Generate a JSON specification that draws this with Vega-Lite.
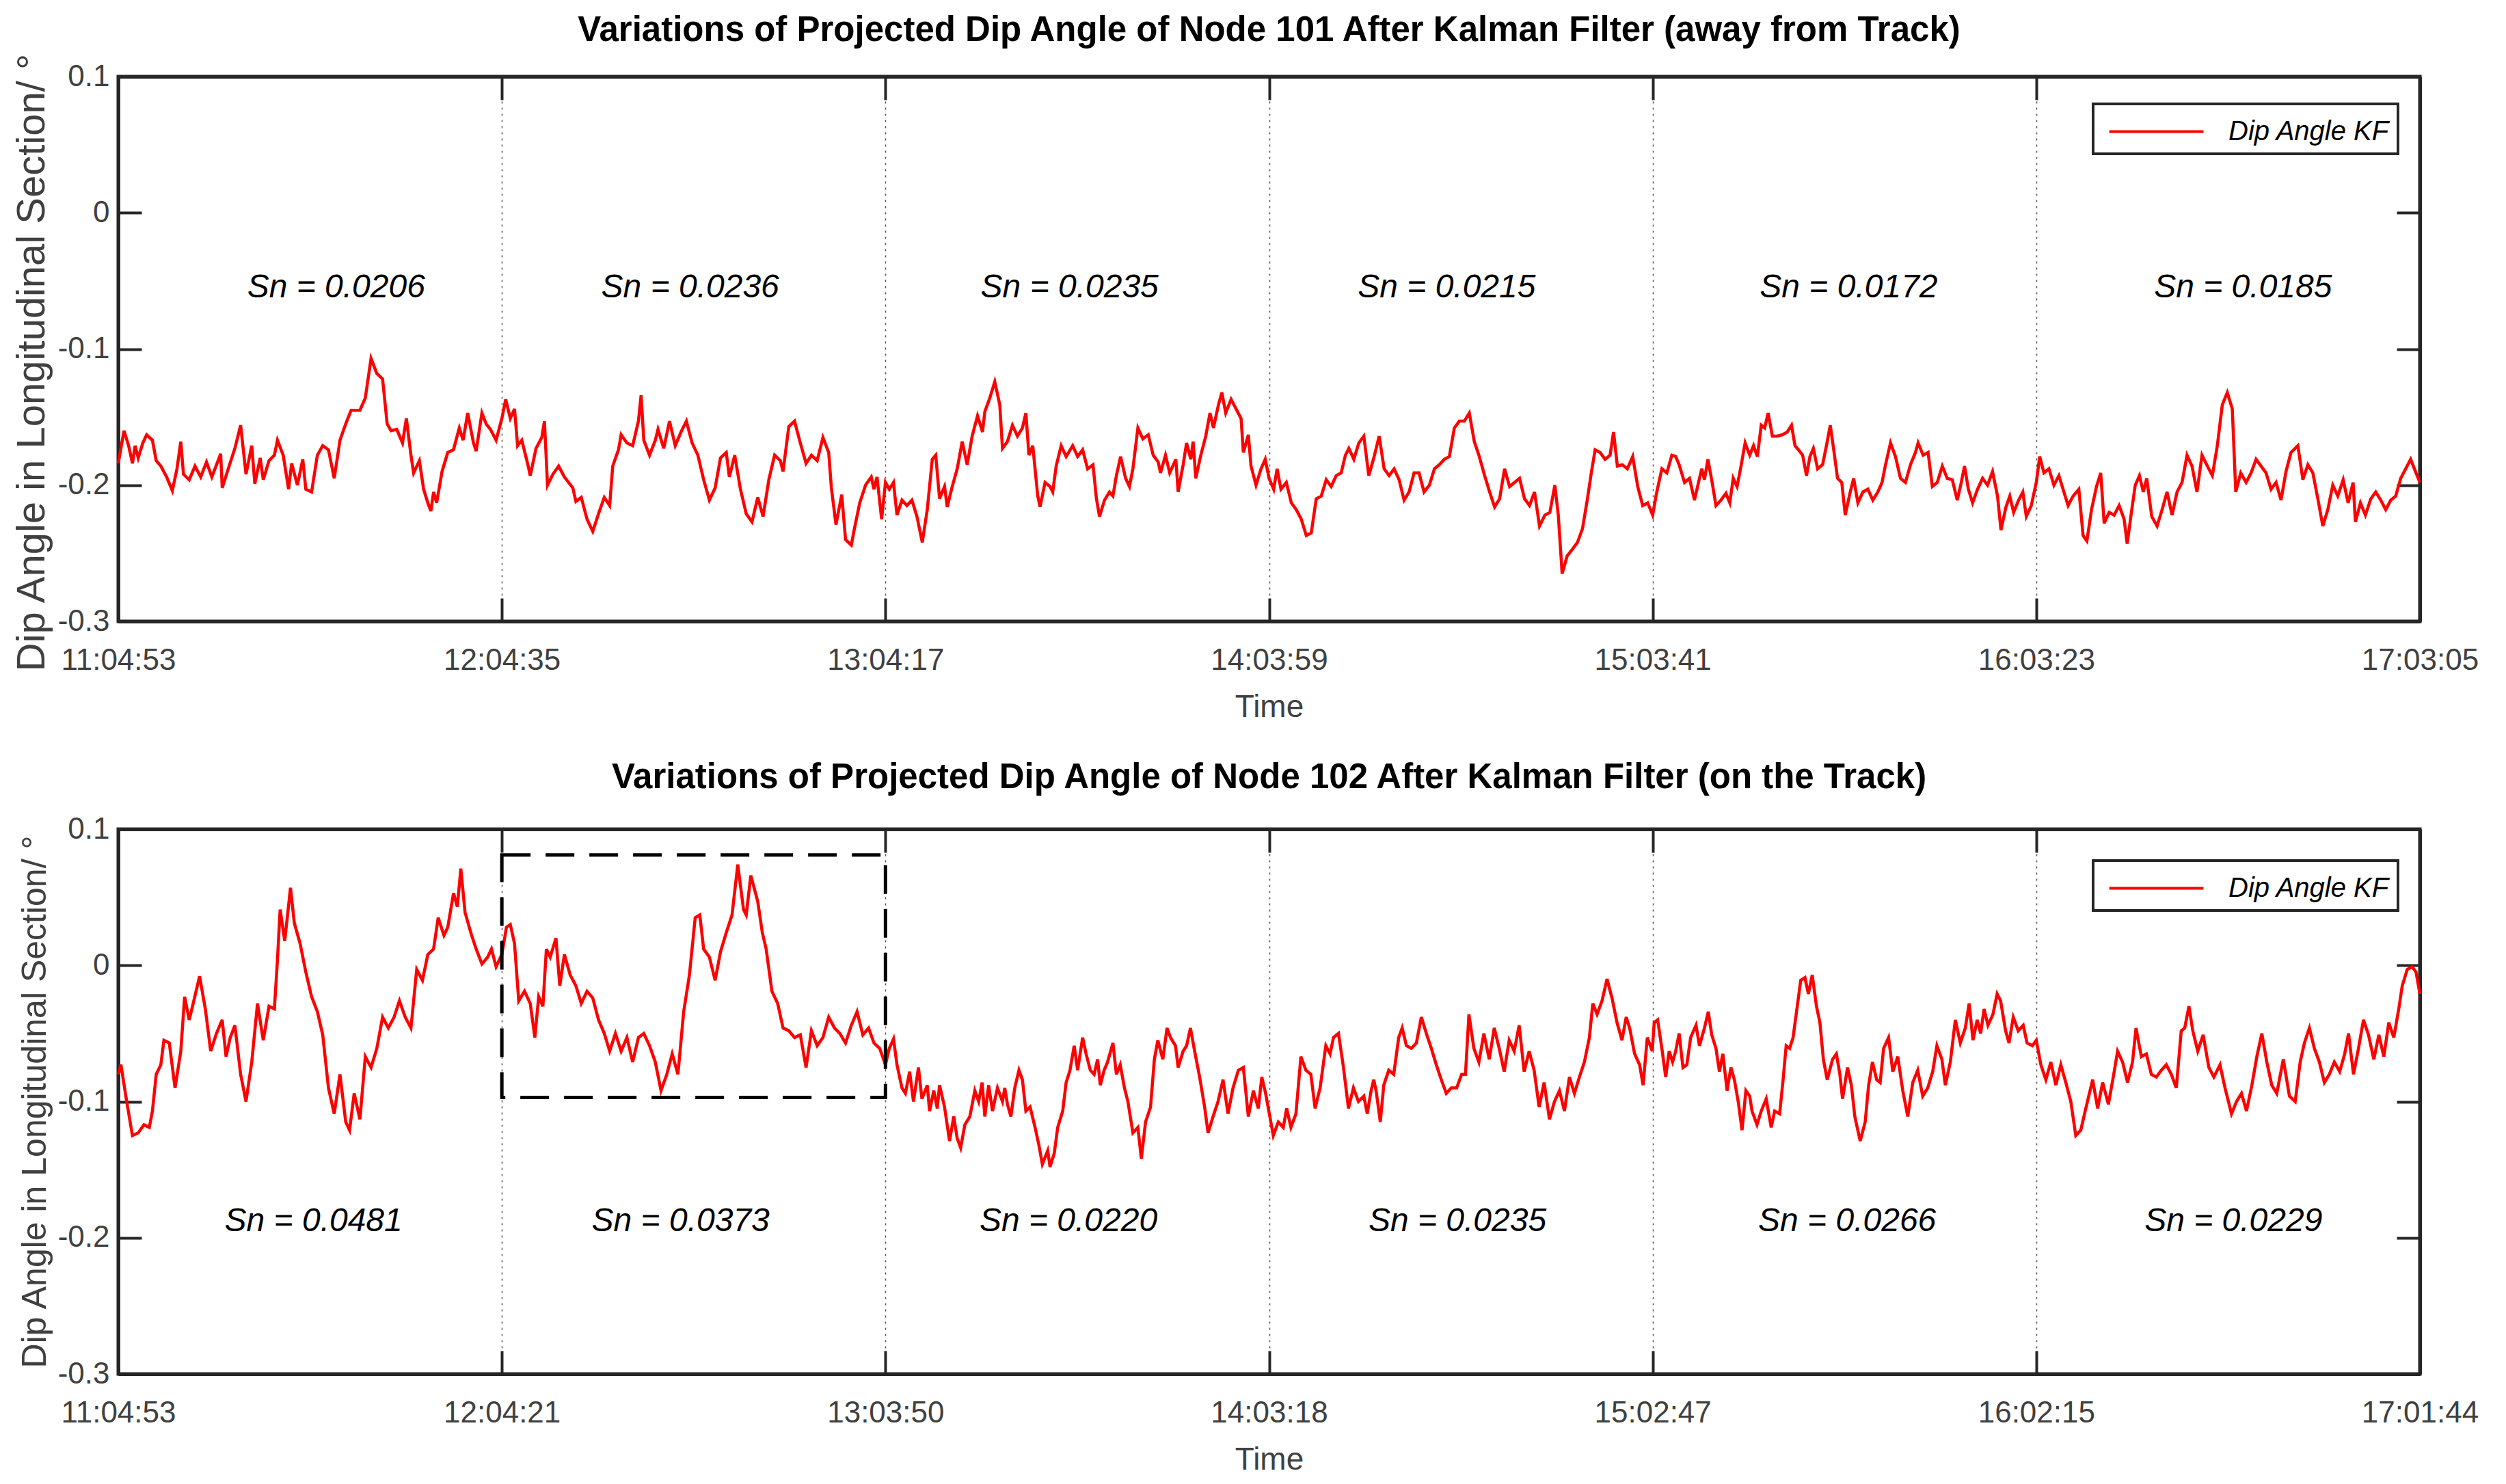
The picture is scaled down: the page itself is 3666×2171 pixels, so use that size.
{
  "$schema": "https://vega.github.io/schema/vega-lite/v6.json",
  "background": "white",
  "padding": {"left": 15, "top": 16, "right": 10, "bottom": 10},
  "datasets": {
    "top": [
      {"t":0,"v":-0.184},{"t":0.015,"v":-0.160},{"t":0.027,"v":-0.171},{"t":0.037,"v":-0.184},{"t":0.044,"v":-0.171},{"t":0.052,"v":-0.180},{"t":0.064,"v":-0.169},{"t":0.074,"v":-0.163},{"t":0.089,"v":-0.167},{"t":0.099,"v":-0.182},
      {"t":0.111,"v":-0.186},{"t":0.126,"v":-0.194},{"t":0.141,"v":-0.204},{"t":0.153,"v":-0.188},{"t":0.163,"v":-0.168},{"t":0.170,"v":-0.192},{"t":0.185,"v":-0.196},{"t":0.200,"v":-0.186},{"t":0.215,"v":-0.194},{"t":0.230,"v":-0.183},
      {"t":0.244,"v":-0.194},{"t":0.267,"v":-0.177},{"t":0.271,"v":-0.202},{"t":0.289,"v":-0.186},{"t":0.304,"v":-0.173},{"t":0.319,"v":-0.156},{"t":0.333,"v":-0.192},{"t":0.348,"v":-0.171},{"t":0.356,"v":-0.199},{"t":0.370,"v":-0.180},
      {"t":0.378,"v":-0.196},{"t":0.393,"v":-0.182},{"t":0.407,"v":-0.178},{"t":0.415,"v":-0.167},{"t":0.430,"v":-0.178},{"t":0.444,"v":-0.203},{"t":0.452,"v":-0.184},{"t":0.467,"v":-0.200},{"t":0.481,"v":-0.181},{"t":0.489,"v":-0.203},
      {"t":0.504,"v":-0.205},{"t":0.519,"v":-0.178},{"t":0.533,"v":-0.171},{"t":0.548,"v":-0.174},{"t":0.563,"v":-0.195},{"t":0.578,"v":-0.167},{"t":0.593,"v":-0.155},{"t":0.607,"v":-0.145},{"t":0.630,"v":-0.145},{"t":0.644,"v":-0.136},
      {"t":0.659,"v":-0.107},{"t":0.674,"v":-0.118},{"t":0.689,"v":-0.122},{"t":0.701,"v":-0.155},{"t":0.711,"v":-0.160},{"t":0.726,"v":-0.159},{"t":0.741,"v":-0.169},{"t":0.751,"v":-0.151},{"t":0.763,"v":-0.178},{"t":0.770,"v":-0.191},
      {"t":0.785,"v":-0.182},{"t":0.796,"v":-0.203},{"t":0.807,"v":-0.213},{"t":0.815,"v":-0.219},{"t":0.822,"v":-0.205},{"t":0.830,"v":-0.213},{"t":0.844,"v":-0.190},{"t":0.859,"v":-0.176},{"t":0.874,"v":-0.174},{"t":0.889,"v":-0.158},
      {"t":0.899,"v":-0.167},{"t":0.911,"v":-0.147},{"t":0.926,"v":-0.169},{"t":0.933,"v":-0.175},{"t":0.948,"v":-0.147},{"t":0.959,"v":-0.155},{"t":0.970,"v":-0.159},{"t":0.985,"v":-0.167},{"t":1.000,"v":-0.151},{"t":1.010,"v":-0.137},
      {"t":1.022,"v":-0.151},{"t":1.033,"v":-0.144},{"t":1.041,"v":-0.171},{"t":1.052,"v":-0.167},{"t":1.067,"v":-0.184},{"t":1.074,"v":-0.193},{"t":1.089,"v":-0.173},{"t":1.104,"v":-0.165},{"t":1.111,"v":-0.153},{"t":1.119,"v":-0.200},
      {"t":1.133,"v":-0.192},{"t":1.148,"v":-0.186},{"t":1.163,"v":-0.194},{"t":1.185,"v":-0.202},{"t":1.193,"v":-0.212},{"t":1.207,"v":-0.209},{"t":1.222,"v":-0.225},{"t":1.237,"v":-0.234},{"t":1.252,"v":-0.221},{"t":1.267,"v":-0.209},
      {"t":1.281,"v":-0.215},{"t":1.289,"v":-0.186},{"t":1.304,"v":-0.174},{"t":1.311,"v":-0.163},{"t":1.326,"v":-0.169},{"t":1.341,"v":-0.171},{"t":1.356,"v":-0.153},{"t":1.363,"v":-0.134},{"t":1.370,"v":-0.167},{"t":1.385,"v":-0.178},
      {"t":1.400,"v":-0.167},{"t":1.407,"v":-0.159},{"t":1.422,"v":-0.173},{"t":1.437,"v":-0.153},{"t":1.452,"v":-0.171},{"t":1.467,"v":-0.161},{"t":1.481,"v":-0.153},{"t":1.496,"v":-0.169},{"t":1.511,"v":-0.178},{"t":1.526,"v":-0.196},
      {"t":1.541,"v":-0.211},{"t":1.556,"v":-0.202},{"t":1.570,"v":-0.180},{"t":1.585,"v":-0.176},{"t":1.593,"v":-0.194},{"t":1.607,"v":-0.178},{"t":1.622,"v":-0.203},{"t":1.637,"v":-0.221},{"t":1.652,"v":-0.227},{"t":1.667,"v":-0.209},
      {"t":1.681,"v":-0.223},{"t":1.696,"v":-0.196},{"t":1.711,"v":-0.178},{"t":1.726,"v":-0.182},{"t":1.733,"v":-0.190},{"t":1.748,"v":-0.157},{"t":1.763,"v":-0.153},{"t":1.778,"v":-0.169},{"t":1.793,"v":-0.184},{"t":1.807,"v":-0.178},
      {"t":1.822,"v":-0.182},{"t":1.837,"v":-0.165},{"t":1.852,"v":-0.176},{"t":1.859,"v":-0.202},{"t":1.871,"v":-0.229},{"t":1.886,"v":-0.207},{"t":1.896,"v":-0.240},{"t":1.911,"v":-0.244},{"t":1.919,"v":-0.232},{"t":1.933,"v":-0.213},
      {"t":1.948,"v":-0.200},{"t":1.963,"v":-0.194},{"t":1.970,"v":-0.203},{"t":1.978,"v":-0.194},{"t":1.990,"v":-0.225},{"t":2.000,"v":-0.198},
      {"t":2.010,"v":-0.203},{"t":2.021,"v":-0.198},{"t":2.030,"v":-0.222},{"t":2.043,"v":-0.211},{"t":2.056,"v":-0.215},{"t":2.069,"v":-0.211},{"t":2.082,"v":-0.223},{"t":2.096,"v":-0.242},{"t":2.109,"v":-0.218},{"t":2.122,"v":-0.181},
      {"t":2.131,"v":-0.178},{"t":2.141,"v":-0.210},{"t":2.154,"v":-0.201},{"t":2.161,"v":-0.216},{"t":2.174,"v":-0.201},{"t":2.187,"v":-0.188},{"t":2.200,"v":-0.168},{"t":2.213,"v":-0.185},{"t":2.226,"v":-0.164},{"t":2.240,"v":-0.149},
      {"t":2.253,"v":-0.161},{"t":2.259,"v":-0.146},{"t":2.272,"v":-0.136},{"t":2.285,"v":-0.124},{"t":2.298,"v":-0.141},{"t":2.305,"v":-0.173},{"t":2.318,"v":-0.168},{"t":2.331,"v":-0.156},{"t":2.344,"v":-0.164},{"t":2.357,"v":-0.158},
      {"t":2.366,"v":-0.147},{"t":2.374,"v":-0.178},{"t":2.384,"v":-0.171},{"t":2.397,"v":-0.208},{"t":2.403,"v":-0.216},{"t":2.416,"v":-0.198},{"t":2.429,"v":-0.201},{"t":2.436,"v":-0.205},{"t":2.445,"v":-0.186},{"t":2.458,"v":-0.171},
      {"t":2.471,"v":-0.179},{"t":2.488,"v":-0.171},{"t":2.501,"v":-0.179},{"t":2.514,"v":-0.174},{"t":2.527,"v":-0.188},{"t":2.541,"v":-0.185},{"t":2.550,"v":-0.210},{"t":2.558,"v":-0.223},{"t":2.571,"v":-0.211},{"t":2.584,"v":-0.205},
      {"t":2.593,"v":-0.208},{"t":2.602,"v":-0.193},{"t":2.613,"v":-0.179},{"t":2.626,"v":-0.195},{"t":2.636,"v":-0.201},{"t":2.645,"v":-0.188},{"t":2.658,"v":-0.158},{"t":2.671,"v":-0.166},{"t":2.685,"v":-0.163},{"t":2.698,"v":-0.178},
      {"t":2.711,"v":-0.183},{"t":2.717,"v":-0.191},{"t":2.730,"v":-0.178},{"t":2.741,"v":-0.191},{"t":2.757,"v":-0.181},{"t":2.763,"v":-0.205},{"t":2.776,"v":-0.185},{"t":2.785,"v":-0.169},{"t":2.796,"v":-0.181},{"t":2.802,"v":-0.168},
      {"t":2.809,"v":-0.195},{"t":2.822,"v":-0.178},{"t":2.835,"v":-0.164},{"t":2.846,"v":-0.147},{"t":2.855,"v":-0.158},{"t":2.868,"v":-0.141},{"t":2.877,"v":-0.132},{"t":2.887,"v":-0.147},{"t":2.901,"v":-0.137},{"t":2.914,"v":-0.144},
      {"t":2.927,"v":-0.151},{"t":2.933,"v":-0.176},{"t":2.946,"v":-0.163},{"t":2.953,"v":-0.186},{"t":2.966,"v":-0.200},{"t":2.979,"v":-0.188},{"t":2.990,"v":-0.181},{"t":3.000,"v":-0.195},{"t":3.012,"v":-0.203},{"t":3.021,"v":-0.188},
      {"t":3.031,"v":-0.203},{"t":3.045,"v":-0.198},{"t":3.058,"v":-0.213},{"t":3.071,"v":-0.218},{"t":3.084,"v":-0.225},{"t":3.097,"v":-0.237},{"t":3.110,"v":-0.235},{"t":3.123,"v":-0.210},{"t":3.136,"v":-0.208},{"t":3.149,"v":-0.196},
      {"t":3.162,"v":-0.201},{"t":3.175,"v":-0.193},{"t":3.188,"v":-0.191},{"t":3.199,"v":-0.178},{"t":3.208,"v":-0.173},{"t":3.221,"v":-0.181},{"t":3.234,"v":-0.169},{"t":3.247,"v":-0.164},{"t":3.260,"v":-0.193},{"t":3.274,"v":-0.179},
      {"t":3.287,"v":-0.164},{"t":3.300,"v":-0.188},{"t":3.313,"v":-0.193},{"t":3.326,"v":-0.188},{"t":3.339,"v":-0.196},{"t":3.352,"v":-0.211},{"t":3.365,"v":-0.205},{"t":3.378,"v":-0.191},{"t":3.391,"v":-0.191},{"t":3.404,"v":-0.205},
      {"t":3.418,"v":-0.200},{"t":3.431,"v":-0.188},{"t":3.444,"v":-0.185},{"t":3.457,"v":-0.181},{"t":3.470,"v":-0.179},{"t":3.483,"v":-0.158},{"t":3.496,"v":-0.153},{"t":3.509,"v":-0.153},{"t":3.522,"v":-0.147},{"t":3.535,"v":-0.168},
      {"t":3.548,"v":-0.179},{"t":3.562,"v":-0.193},{"t":3.575,"v":-0.205},{"t":3.588,"v":-0.216},{"t":3.601,"v":-0.210},{"t":3.614,"v":-0.188},{"t":3.627,"v":-0.201},{"t":3.640,"v":-0.198},{"t":3.653,"v":-0.195},{"t":3.666,"v":-0.210},
      {"t":3.679,"v":-0.215},{"t":3.692,"v":-0.205},{"t":3.705,"v":-0.230},{"t":3.719,"v":-0.222},{"t":3.732,"v":-0.220},{"t":3.745,"v":-0.200},{"t":3.754,"v":-0.222},{"t":3.764,"v":-0.265},{"t":3.777,"v":-0.252},{"t":3.791,"v":-0.247},
      {"t":3.804,"v":-0.242},{"t":3.817,"v":-0.232},{"t":3.830,"v":-0.210},{"t":3.840,"v":-0.191},{"t":3.850,"v":-0.174},{"t":3.863,"v":-0.176},{"t":3.876,"v":-0.181},{"t":3.889,"v":-0.178},{"t":3.898,"v":-0.161},{"t":3.908,"v":-0.186},
      {"t":3.921,"v":-0.185},{"t":3.934,"v":-0.188},{"t":3.948,"v":-0.179},{"t":3.961,"v":-0.201},{"t":3.974,"v":-0.215},{"t":3.987,"v":-0.213},{"t":4.000,"v":-0.222},
      {"t":4.010,"v":-0.206},{"t":4.024,"v":-0.188},{"t":4.037,"v":-0.191},{"t":4.050,"v":-0.178},{"t":4.060,"v":-0.179},{"t":4.069,"v":-0.185},{"t":4.083,"v":-0.198},{"t":4.096,"v":-0.195},{"t":4.109,"v":-0.211},{"t":4.122,"v":-0.195},
      {"t":4.128,"v":-0.188},{"t":4.135,"v":-0.196},{"t":4.144,"v":-0.181},{"t":4.155,"v":-0.198},{"t":4.165,"v":-0.215},{"t":4.178,"v":-0.211},{"t":4.191,"v":-0.206},{"t":4.201,"v":-0.213},{"t":4.210,"v":-0.195},{"t":4.220,"v":-0.201},
      {"t":4.231,"v":-0.185},{"t":4.241,"v":-0.169},{"t":4.253,"v":-0.178},{"t":4.263,"v":-0.171},{"t":4.273,"v":-0.179},{"t":4.283,"v":-0.156},{"t":4.292,"v":-0.158},{"t":4.301,"v":-0.147},{"t":4.312,"v":-0.164},{"t":4.325,"v":-0.164},
      {"t":4.338,"v":-0.163},{"t":4.351,"v":-0.161},{"t":4.362,"v":-0.156},{"t":4.371,"v":-0.171},{"t":4.380,"v":-0.174},{"t":4.391,"v":-0.178},{"t":4.401,"v":-0.193},{"t":4.410,"v":-0.179},{"t":4.419,"v":-0.173},{"t":4.430,"v":-0.188},
      {"t":4.443,"v":-0.185},{"t":4.453,"v":-0.171},{"t":4.463,"v":-0.156},{"t":4.472,"v":-0.174},{"t":4.482,"v":-0.195},{"t":4.493,"v":-0.198},{"t":4.502,"v":-0.222},{"t":4.515,"v":-0.205},{"t":4.524,"v":-0.195},{"t":4.535,"v":-0.213},
      {"t":4.548,"v":-0.205},{"t":4.561,"v":-0.203},{"t":4.574,"v":-0.211},{"t":4.587,"v":-0.205},{"t":4.598,"v":-0.198},{"t":4.607,"v":-0.185},{"t":4.620,"v":-0.169},{"t":4.633,"v":-0.179},{"t":4.646,"v":-0.195},{"t":4.659,"v":-0.198},
      {"t":4.672,"v":-0.185},{"t":4.685,"v":-0.176},{"t":4.692,"v":-0.169},{"t":4.705,"v":-0.178},{"t":4.718,"v":-0.176},{"t":4.729,"v":-0.201},{"t":4.742,"v":-0.198},{"t":4.755,"v":-0.186},{"t":4.768,"v":-0.195},{"t":4.781,"v":-0.196},
      {"t":4.794,"v":-0.211},{"t":4.803,"v":-0.200},{"t":4.813,"v":-0.186},{"t":4.823,"v":-0.203},{"t":4.834,"v":-0.213},{"t":4.847,"v":-0.203},{"t":4.860,"v":-0.195},{"t":4.873,"v":-0.200},{"t":4.886,"v":-0.190},{"t":4.899,"v":-0.208},
      {"t":4.908,"v":-0.233},{"t":4.921,"v":-0.216},{"t":4.931,"v":-0.208},{"t":4.941,"v":-0.220},{"t":4.954,"v":-0.211},{"t":4.965,"v":-0.205},{"t":4.974,"v":-0.223},{"t":4.987,"v":-0.215},{"t":5.000,"v":-0.198},{"t":5.009,"v":-0.179},
      {"t":5.020,"v":-0.191},{"t":5.033,"v":-0.188},{"t":5.046,"v":-0.200},{"t":5.059,"v":-0.193},{"t":5.072,"v":-0.205},{"t":5.083,"v":-0.215},{"t":5.096,"v":-0.208},{"t":5.111,"v":-0.203},{"t":5.122,"v":-0.237},{"t":5.132,"v":-0.241},
      {"t":5.144,"v":-0.218},{"t":5.157,"v":-0.201},{"t":5.168,"v":-0.191},{"t":5.177,"v":-0.228},{"t":5.190,"v":-0.220},{"t":5.203,"v":-0.222},{"t":5.216,"v":-0.215},{"t":5.229,"v":-0.225},{"t":5.237,"v":-0.243},{"t":5.249,"v":-0.218},
      {"t":5.258,"v":-0.200},{"t":5.269,"v":-0.193},{"t":5.279,"v":-0.205},{"t":5.288,"v":-0.195},{"t":5.301,"v":-0.223},{"t":5.315,"v":-0.230},{"t":5.328,"v":-0.218},{"t":5.341,"v":-0.205},{"t":5.354,"v":-0.222},{"t":5.367,"v":-0.205},
      {"t":5.380,"v":-0.198},{"t":5.393,"v":-0.178},{"t":5.406,"v":-0.186},{"t":5.419,"v":-0.205},{"t":5.432,"v":-0.178},{"t":5.446,"v":-0.186},{"t":5.459,"v":-0.193},{"t":5.472,"v":-0.171},{"t":5.485,"v":-0.141},{"t":5.498,"v":-0.132},
      {"t":5.511,"v":-0.144},{"t":5.520,"v":-0.205},{"t":5.533,"v":-0.191},{"t":5.547,"v":-0.198},{"t":5.560,"v":-0.191},{"t":5.573,"v":-0.181},{"t":5.586,"v":-0.186},{"t":5.599,"v":-0.191},{"t":5.612,"v":-0.203},{"t":5.625,"v":-0.198},
      {"t":5.638,"v":-0.211},{"t":5.651,"v":-0.190},{"t":5.664,"v":-0.176},{"t":5.682,"v":-0.171},{"t":5.695,"v":-0.196},{"t":5.708,"v":-0.185},{"t":5.721,"v":-0.191},{"t":5.734,"v":-0.210},{"t":5.747,"v":-0.230},{"t":5.760,"v":-0.218},
      {"t":5.773,"v":-0.200},{"t":5.786,"v":-0.208},{"t":5.800,"v":-0.196},{"t":5.813,"v":-0.213},{"t":5.826,"v":-0.198},{"t":5.832,"v":-0.227},{"t":5.845,"v":-0.213},{"t":5.858,"v":-0.222},{"t":5.872,"v":-0.210},{"t":5.885,"v":-0.205},
      {"t":5.898,"v":-0.211},{"t":5.911,"v":-0.218},{"t":5.924,"v":-0.211},{"t":5.937,"v":-0.208},{"t":5.950,"v":-0.195},{"t":5.963,"v":-0.188},{"t":5.976,"v":-0.181},{"t":5.990,"v":-0.191},{"t":6.000,"v":-0.198}
    ],
    "bottom": [
      {"t":0,"v":-0.080},{"t":0.007,"v":-0.073},{"t":0.022,"v":-0.100},{"t":0.037,"v":-0.125},{"t":0.052,"v":-0.123},{"t":0.067,"v":-0.117},{"t":0.081,"v":-0.119},{"t":0.089,"v":-0.107},{"t":0.099,"v":-0.080},{"t":0.111,"v":-0.073},
      {"t":0.119,"v":-0.055},{"t":0.133,"v":-0.057},{"t":0.148,"v":-0.090},{"t":0.163,"v":-0.063},{"t":0.173,"v":-0.023},{"t":0.185,"v":-0.040},{"t":0.197,"v":-0.026},{"t":0.212,"v":-0.008},{"t":0.227,"v":-0.032},{"t":0.241,"v":-0.063},
      {"t":0.256,"v":-0.050},{"t":0.271,"v":-0.040},{"t":0.281,"v":-0.067},{"t":0.292,"v":-0.053},{"t":0.304,"v":-0.044},{"t":0.319,"v":-0.080},{"t":0.333,"v":-0.100},{"t":0.348,"v":-0.071},{"t":0.363,"v":-0.028},{"t":0.378,"v":-0.055},
      {"t":0.393,"v":-0.030},{"t":0.407,"v":-0.032},{"t":0.415,"v":0.004},{"t":0.422,"v":0.041},{"t":0.434,"v":0.018},{"t":0.449,"v":0.057},{"t":0.459,"v":0.031},{"t":0.474,"v":0.016},{"t":0.489,"v":-0.005},{"t":0.504,"v":-0.023},
      {"t":0.519,"v":-0.034},{"t":0.533,"v":-0.051},{"t":0.548,"v":-0.090},{"t":0.563,"v":-0.109},{"t":0.578,"v":-0.080},{"t":0.593,"v":-0.115},{"t":0.603,"v":-0.121},{"t":0.615,"v":-0.094},{"t":0.630,"v":-0.113},{"t":0.644,"v":-0.067},
      {"t":0.659,"v":-0.075},{"t":0.674,"v":-0.061},{"t":0.689,"v":-0.038},{"t":0.704,"v":-0.046},{"t":0.719,"v":-0.038},{"t":0.733,"v":-0.026},{"t":0.748,"v":-0.038},{"t":0.763,"v":-0.046},{"t":0.778,"v":-0.003},{"t":0.793,"v":-0.011},
      {"t":0.807,"v":0.008},{"t":0.822,"v":0.012},{"t":0.834,"v":0.035},{"t":0.849,"v":0.022},{"t":0.859,"v":0.028},{"t":0.874,"v":0.053},{"t":0.884,"v":0.043},{"t":0.893,"v":0.071},{"t":0.904,"v":0.039},{"t":0.919,"v":0.024},
      {"t":0.933,"v":0.012},{"t":0.948,"v":0.001},{"t":0.963,"v":0.006},{"t":0.973,"v":0.012},{"t":0.985,"v":-0.001},{"t":1.000,"v":0.008},{"t":1.012,"v":0.028},{"t":1.022,"v":0.030},{"t":1.033,"v":0.016},{"t":1.044,"v":-0.026},
      {"t":1.059,"v":-0.019},{"t":1.074,"v":-0.028},{"t":1.086,"v":-0.053},{"t":1.096,"v":-0.023},{"t":1.107,"v":-0.030},{"t":1.116,"v":0.012},{"t":1.126,"v":0.006},{"t":1.141,"v":0.020},{"t":1.151,"v":-0.015},{"t":1.163,"v":0.008},
      {"t":1.178,"v":-0.007},{"t":1.193,"v":-0.015},{"t":1.207,"v":-0.028},{"t":1.222,"v":-0.019},{"t":1.237,"v":-0.024},{"t":1.252,"v":-0.040},{"t":1.267,"v":-0.050},{"t":1.281,"v":-0.063},{"t":1.296,"v":-0.050},{"t":1.311,"v":-0.063},
      {"t":1.326,"v":-0.053},{"t":1.341,"v":-0.071},{"t":1.356,"v":-0.053},{"t":1.370,"v":-0.050},{"t":1.385,"v":-0.059},{"t":1.400,"v":-0.071},{"t":1.415,"v":-0.092},{"t":1.430,"v":-0.080},{"t":1.444,"v":-0.065},{"t":1.459,"v":-0.080},
      {"t":1.474,"v":-0.034},{"t":1.489,"v":-0.007},{"t":1.504,"v":0.035},{"t":1.516,"v":0.037},{"t":1.526,"v":0.012},{"t":1.541,"v":0.006},{"t":1.556,"v":-0.011},{"t":1.570,"v":0.010},{"t":1.585,"v":0.024},{"t":1.600,"v":0.037},
      {"t":1.615,"v":0.074},{"t":1.630,"v":0.041},{"t":1.637,"v":0.037},{"t":1.649,"v":0.066},{"t":1.667,"v":0.047},{"t":1.679,"v":0.024},{"t":1.689,"v":0.012},{"t":1.704,"v":-0.019},{"t":1.719,"v":-0.028},{"t":1.733,"v":-0.046},
      {"t":1.748,"v":-0.048},{"t":1.763,"v":-0.053},{"t":1.778,"v":-0.051},{"t":1.793,"v":-0.075},{"t":1.807,"v":-0.048},{"t":1.822,"v":-0.059},{"t":1.837,"v":-0.053},{"t":1.852,"v":-0.038},{"t":1.867,"v":-0.046},{"t":1.881,"v":-0.050},
      {"t":1.896,"v":-0.057},{"t":1.911,"v":-0.044},{"t":1.926,"v":-0.034},{"t":1.941,"v":-0.051},{"t":1.956,"v":-0.046},{"t":1.970,"v":-0.057},{"t":1.985,"v":-0.061},{"t":2.000,"v":-0.073},
      {"t":2.010,"v":-0.061},{"t":2.021,"v":-0.054},{"t":2.030,"v":-0.073},{"t":2.043,"v":-0.090},{"t":2.052,"v":-0.094},{"t":2.063,"v":-0.078},{"t":2.073,"v":-0.100},{"t":2.086,"v":-0.075},{"t":2.095,"v":-0.098},{"t":2.109,"v":-0.088},
      {"t":2.115,"v":-0.107},{"t":2.126,"v":-0.092},{"t":2.135,"v":-0.105},{"t":2.141,"v":-0.088},{"t":2.154,"v":-0.104},{"t":2.167,"v":-0.129},{"t":2.178,"v":-0.111},{"t":2.187,"v":-0.127},{"t":2.196,"v":-0.134},{"t":2.207,"v":-0.117},
      {"t":2.220,"v":-0.111},{"t":2.233,"v":-0.092},{"t":2.243,"v":-0.100},{"t":2.252,"v":-0.086},{"t":2.259,"v":-0.111},{"t":2.269,"v":-0.088},{"t":2.279,"v":-0.107},{"t":2.292,"v":-0.090},{"t":2.305,"v":-0.100},{"t":2.311,"v":-0.090},
      {"t":2.318,"v":-0.102},{"t":2.327,"v":-0.111},{"t":2.337,"v":-0.090},{"t":2.348,"v":-0.077},{"t":2.357,"v":-0.084},{"t":2.366,"v":-0.107},{"t":2.377,"v":-0.104},{"t":2.390,"v":-0.119},{"t":2.400,"v":-0.132},{"t":2.409,"v":-0.146},
      {"t":2.423,"v":-0.136},{"t":2.429,"v":-0.148},{"t":2.440,"v":-0.138},{"t":2.449,"v":-0.119},{"t":2.462,"v":-0.107},{"t":2.471,"v":-0.086},{"t":2.481,"v":-0.077},{"t":2.492,"v":-0.059},{"t":2.501,"v":-0.077},{"t":2.514,"v":-0.053},
      {"t":2.523,"v":-0.065},{"t":2.534,"v":-0.077},{"t":2.544,"v":-0.080},{"t":2.553,"v":-0.069},{"t":2.560,"v":-0.088},{"t":2.570,"v":-0.077},{"t":2.579,"v":-0.071},{"t":2.593,"v":-0.057},{"t":2.602,"v":-0.080},{"t":2.612,"v":-0.073},
      {"t":2.623,"v":-0.090},{"t":2.632,"v":-0.100},{"t":2.645,"v":-0.123},{"t":2.658,"v":-0.119},{"t":2.667,"v":-0.142},{"t":2.678,"v":-0.115},{"t":2.691,"v":-0.104},{"t":2.701,"v":-0.069},{"t":2.710,"v":-0.055},{"t":2.723,"v":-0.069},
      {"t":2.734,"v":-0.046},{"t":2.743,"v":-0.053},{"t":2.756,"v":-0.059},{"t":2.763,"v":-0.075},{"t":2.776,"v":-0.063},{"t":2.785,"v":-0.059},{"t":2.795,"v":-0.046},{"t":2.806,"v":-0.063},{"t":2.819,"v":-0.082},{"t":2.832,"v":-0.104},
      {"t":2.841,"v":-0.123},{"t":2.854,"v":-0.111},{"t":2.867,"v":-0.100},{"t":2.880,"v":-0.084},{"t":2.893,"v":-0.109},{"t":2.906,"v":-0.090},{"t":2.920,"v":-0.077},{"t":2.933,"v":-0.075},{"t":2.946,"v":-0.111},{"t":2.959,"v":-0.092},
      {"t":2.972,"v":-0.105},{"t":2.981,"v":-0.082},{"t":2.991,"v":-0.094},{"t":3.002,"v":-0.111},{"t":3.011,"v":-0.125},{"t":3.024,"v":-0.115},{"t":3.037,"v":-0.119},{"t":3.046,"v":-0.105},{"t":3.057,"v":-0.119},{"t":3.070,"v":-0.109},
      {"t":3.083,"v":-0.067},{"t":3.096,"v":-0.077},{"t":3.109,"v":-0.080},{"t":3.120,"v":-0.105},{"t":3.133,"v":-0.090},{"t":3.148,"v":-0.059},{"t":3.159,"v":-0.065},{"t":3.168,"v":-0.053},{"t":3.181,"v":-0.050},{"t":3.194,"v":-0.075},
      {"t":3.207,"v":-0.105},{"t":3.220,"v":-0.090},{"t":3.233,"v":-0.100},{"t":3.247,"v":-0.096},{"t":3.256,"v":-0.109},{"t":3.266,"v":-0.092},{"t":3.273,"v":-0.084},{"t":3.279,"v":-0.092},{"t":3.290,"v":-0.115},{"t":3.299,"v":-0.088},
      {"t":3.312,"v":-0.077},{"t":3.325,"v":-0.080},{"t":3.338,"v":-0.053},{"t":3.347,"v":-0.046},{"t":3.358,"v":-0.059},{"t":3.371,"v":-0.061},{"t":3.384,"v":-0.057},{"t":3.397,"v":-0.038},{"t":3.410,"v":-0.050},{"t":3.423,"v":-0.061},
      {"t":3.436,"v":-0.073},{"t":3.449,"v":-0.084},{"t":3.462,"v":-0.094},{"t":3.475,"v":-0.090},{"t":3.489,"v":-0.090},{"t":3.502,"v":-0.080},{"t":3.512,"v":-0.080},{"t":3.521,"v":-0.036},{"t":3.534,"v":-0.061},{"t":3.547,"v":-0.071},
      {"t":3.560,"v":-0.050},{"t":3.574,"v":-0.069},{"t":3.587,"v":-0.046},{"t":3.600,"v":-0.061},{"t":3.613,"v":-0.078},{"t":3.626,"v":-0.055},{"t":3.639,"v":-0.063},{"t":3.652,"v":-0.044},{"t":3.665,"v":-0.078},{"t":3.678,"v":-0.063},
      {"t":3.691,"v":-0.077},{"t":3.704,"v":-0.104},{"t":3.717,"v":-0.086},{"t":3.731,"v":-0.113},{"t":3.744,"v":-0.100},{"t":3.757,"v":-0.092},{"t":3.770,"v":-0.107},{"t":3.783,"v":-0.082},{"t":3.796,"v":-0.094},{"t":3.809,"v":-0.082},
      {"t":3.822,"v":-0.071},{"t":3.835,"v":-0.053},{"t":3.844,"v":-0.028},{"t":3.855,"v":-0.036},{"t":3.868,"v":-0.026},{"t":3.881,"v":-0.010},{"t":3.894,"v":-0.024},{"t":3.907,"v":-0.042},{"t":3.920,"v":-0.055},{"t":3.931,"v":-0.038},
      {"t":3.940,"v":-0.046},{"t":3.953,"v":-0.065},{"t":3.966,"v":-0.073},{"t":3.975,"v":-0.088},{"t":3.986,"v":-0.053},{"t":3.999,"v":-0.063},
      {"t":4.004,"v":-0.042},{"t":4.013,"v":-0.040},{"t":4.024,"v":-0.061},{"t":4.034,"v":-0.082},{"t":4.043,"v":-0.063},{"t":4.052,"v":-0.071},{"t":4.060,"v":-0.063},{"t":4.069,"v":-0.050},{"t":4.079,"v":-0.075},{"t":4.089,"v":-0.073},
      {"t":4.099,"v":-0.053},{"t":4.113,"v":-0.044},{"t":4.122,"v":-0.059},{"t":4.135,"v":-0.046},{"t":4.145,"v":-0.034},{"t":4.154,"v":-0.051},{"t":4.165,"v":-0.061},{"t":4.174,"v":-0.078},{"t":4.183,"v":-0.065},{"t":4.194,"v":-0.092},
      {"t":4.204,"v":-0.075},{"t":4.213,"v":-0.084},{"t":4.223,"v":-0.100},{"t":4.233,"v":-0.121},{"t":4.243,"v":-0.092},{"t":4.253,"v":-0.096},{"t":4.259,"v":-0.107},{"t":4.272,"v":-0.117},{"t":4.283,"v":-0.107},{"t":4.296,"v":-0.098},
      {"t":4.309,"v":-0.119},{"t":4.318,"v":-0.107},{"t":4.331,"v":-0.109},{"t":4.340,"v":-0.084},{"t":4.348,"v":-0.059},{"t":4.357,"v":-0.061},{"t":4.366,"v":-0.053},{"t":4.377,"v":-0.030},{"t":4.386,"v":-0.011},{"t":4.397,"v":-0.009},
      {"t":4.406,"v":-0.021},{"t":4.416,"v":-0.007},{"t":4.427,"v":-0.030},{"t":4.436,"v":-0.042},{"t":4.445,"v":-0.069},{"t":4.455,"v":-0.084},{"t":4.469,"v":-0.069},{"t":4.479,"v":-0.065},{"t":4.488,"v":-0.080},{"t":4.495,"v":-0.098},
      {"t":4.508,"v":-0.075},{"t":4.518,"v":-0.088},{"t":4.527,"v":-0.111},{"t":4.541,"v":-0.129},{"t":4.554,"v":-0.115},{"t":4.563,"v":-0.088},{"t":4.573,"v":-0.071},{"t":4.584,"v":-0.084},{"t":4.593,"v":-0.086},{"t":4.602,"v":-0.061},
      {"t":4.615,"v":-0.053},{"t":4.626,"v":-0.078},{"t":4.639,"v":-0.067},{"t":4.652,"v":-0.092},{"t":4.665,"v":-0.111},{"t":4.678,"v":-0.086},{"t":4.691,"v":-0.077},{"t":4.704,"v":-0.096},{"t":4.717,"v":-0.090},{"t":4.730,"v":-0.078},
      {"t":4.741,"v":-0.059},{"t":4.754,"v":-0.069},{"t":4.763,"v":-0.088},{"t":4.776,"v":-0.071},{"t":4.789,"v":-0.040},{"t":4.802,"v":-0.057},{"t":4.815,"v":-0.046},{"t":4.825,"v":-0.028},{"t":4.835,"v":-0.055},{"t":4.846,"v":-0.040},
      {"t":4.855,"v":-0.050},{"t":4.864,"v":-0.032},{"t":4.874,"v":-0.044},{"t":4.887,"v":-0.036},{"t":4.898,"v":-0.021},{"t":4.907,"v":-0.026},{"t":4.920,"v":-0.048},{"t":4.929,"v":-0.057},{"t":4.940,"v":-0.038},{"t":4.953,"v":-0.048},
      {"t":4.966,"v":-0.044},{"t":4.976,"v":-0.057},{"t":4.990,"v":-0.059},{"t":5.000,"v":-0.055},{"t":5.012,"v":-0.073},{"t":5.025,"v":-0.084},{"t":5.038,"v":-0.071},{"t":5.051,"v":-0.088},{"t":5.064,"v":-0.073},{"t":5.077,"v":-0.086},
      {"t":5.090,"v":-0.100},{"t":5.103,"v":-0.125},{"t":5.116,"v":-0.121},{"t":5.130,"v":-0.104},{"t":5.147,"v":-0.084},{"t":5.160,"v":-0.105},{"t":5.173,"v":-0.086},{"t":5.188,"v":-0.102},{"t":5.202,"v":-0.080},{"t":5.212,"v":-0.063},
      {"t":5.225,"v":-0.071},{"t":5.238,"v":-0.086},{"t":5.251,"v":-0.071},{"t":5.260,"v":-0.046},{"t":5.274,"v":-0.067},{"t":5.287,"v":-0.065},{"t":5.300,"v":-0.080},{"t":5.313,"v":-0.082},{"t":5.326,"v":-0.077},{"t":5.339,"v":-0.073},
      {"t":5.352,"v":-0.080},{"t":5.365,"v":-0.090},{"t":5.378,"v":-0.048},{"t":5.387,"v":-0.046},{"t":5.398,"v":-0.030},{"t":5.408,"v":-0.048},{"t":5.421,"v":-0.063},{"t":5.435,"v":-0.051},{"t":5.450,"v":-0.075},{"t":5.463,"v":-0.082},
      {"t":5.479,"v":-0.073},{"t":5.492,"v":-0.090},{"t":5.509,"v":-0.109},{"t":5.522,"v":-0.100},{"t":5.535,"v":-0.094},{"t":5.548,"v":-0.107},{"t":5.562,"v":-0.088},{"t":5.575,"v":-0.067},{"t":5.588,"v":-0.050},{"t":5.601,"v":-0.071},
      {"t":5.614,"v":-0.088},{"t":5.627,"v":-0.094},{"t":5.644,"v":-0.069},{"t":5.660,"v":-0.096},{"t":5.675,"v":-0.100},{"t":5.688,"v":-0.071},{"t":5.699,"v":-0.057},{"t":5.712,"v":-0.046},{"t":5.725,"v":-0.061},{"t":5.738,"v":-0.071},
      {"t":5.751,"v":-0.086},{"t":5.764,"v":-0.080},{"t":5.777,"v":-0.071},{"t":5.791,"v":-0.078},{"t":5.804,"v":-0.065},{"t":5.814,"v":-0.050},{"t":5.827,"v":-0.080},{"t":5.840,"v":-0.061},{"t":5.853,"v":-0.040},{"t":5.866,"v":-0.051},
      {"t":5.880,"v":-0.069},{"t":5.893,"v":-0.051},{"t":5.906,"v":-0.067},{"t":5.919,"v":-0.042},{"t":5.932,"v":-0.053},{"t":5.945,"v":-0.032},{"t":5.954,"v":-0.015},{"t":5.967,"v":-0.003},{"t":5.980,"v":-0.001},{"t":5.990,"v":-0.005},
      {"t":6.000,"v":-0.021}
    ],
    "snTop": [
      {"t":0.568,"v":-0.055,"label":"Sn = 0.0206"},{"t":1.491,"v":-0.055,"label":"Sn = 0.0236"},{"t":2.480,"v":-0.055,"label":"Sn = 0.0235"},
      {"t":3.463,"v":-0.055,"label":"Sn = 0.0215"},{"t":4.511,"v":-0.055,"label":"Sn = 0.0172"},{"t":5.539,"v":-0.055,"label":"Sn = 0.0185"}
    ],
    "snBottom": [
      {"t":0.509,"v":-0.188,"label":"Sn = 0.0481"},{"t":1.466,"v":-0.188,"label":"Sn = 0.0373"},{"t":2.477,"v":-0.188,"label":"Sn = 0.0220"},
      {"t":3.491,"v":-0.188,"label":"Sn = 0.0235"},{"t":4.507,"v":-0.188,"label":"Sn = 0.0266"},{"t":5.514,"v":-0.188,"label":"Sn = 0.0229"}
    ],
    "box": [
      {"t0":1,"t1":2,"v0":-0.097,"v1":0.081}
    ]
  },
  "vconcat": [
    {
      "title": {"text": "Variations of Projected Dip Angle of Node 101 After Kalman Filter (away from Track)"},
      "width": 3367,
      "height": 797,
      "layer": [
        {
          "data": {"name": "top"},
          "mark": {"type": "line", "strokeWidth": 4.5},
          "encoding": {
            "x": {"field": "t", "type": "quantitative", "scale": {"domain": [0, 6], "nice": false, "zero": false},
              "axis": {"orient": "bottom", "values": [0, 1, 2, 3, 4, 5, 6], "title": "Time", "grid": true,
                "labelExpr": "['11:04:53','12:04:35','13:04:17','14:03:59','15:03:41','16:03:23','17:03:05'][datum.value]"}},
            "y": {"field": "v", "type": "quantitative", "scale": {"domain": [-0.3, 0.1], "nice": false, "zero": false},
              "axis": {"orient": "left", "values": [-0.3, -0.2, -0.1, 0, 0.1], "title": "Dip Angle in Longitudinal Section/ °", "titleFontSize": 58, "titleY": 418, "labelExpr": "'' + datum.value"}},
            "color": {"datum": "Dip Angle KF", "type": "nominal", "scale": {"domain": ["Dip Angle KF"], "range": ["#ff0000"]},
              "legend": {"orient": "none", "legendX": 2889, "legendY": 40,
                "encode": {"legend": {"update": {"strokeWidth": {"value": 4}}}}}}
          }
        },
        {
          "data": {"name": "snTop"},
          "mark": {"type": "text", "fontSize": 48, "fontStyle": "italic", "color": "#000000", "align": "center", "baseline": "middle"},
          "encoding": {
            "x": {"field": "t", "type": "quantitative", "axis": {"orient": "top", "values": [0, 1, 2, 3, 4, 5, 6], "labels": false, "title": null}},
            "y": {"field": "v", "type": "quantitative", "axis": {"orient": "right", "values": [-0.3, -0.2, -0.1, 0, 0.1], "labels": false, "title": null}},
            "text": {"field": "label"}
          }
        }
      ],
      "resolve": {"axis": {"x": "independent", "y": "independent"}}
    },
    {
      "title": {"text": "Variations of Projected Dip Angle of Node 102 After Kalman Filter (on the Track)", "offset": 27},
      "width": 3367,
      "height": 797,
      "layer": [
        {
          "data": {"name": "bottom"},
          "mark": {"type": "line", "strokeWidth": 4.5},
          "encoding": {
            "x": {"field": "t", "type": "quantitative", "scale": {"domain": [0, 6], "nice": false, "zero": false},
              "axis": {"orient": "bottom", "values": [0, 1, 2, 3, 4, 5, 6], "title": "Time", "grid": true,
                "labelExpr": "['11:04:53','12:04:21','13:03:50','14:03:18','15:02:47','16:02:15','17:01:44'][datum.value]"}},
            "y": {"field": "v", "type": "quantitative", "scale": {"domain": [-0.3, 0.1], "nice": false, "zero": false},
              "axis": {"orient": "left", "values": [-0.3, -0.2, -0.1, 0, 0.1], "title": "Dip Angle in Longitudinal Section/ °", "titleFontSize": 50, "labelExpr": "'' + datum.value"}},
            "color": {"datum": "Dip Angle KF", "type": "nominal", "scale": {"domain": ["Dip Angle KF"], "range": ["#ff0000"]},
              "legend": {"orient": "none", "legendX": 2889, "legendY": 46,
                "encode": {"legend": {"update": {"strokeWidth": {"value": 4}}}}}}
          }
        },
        {
          "data": {"name": "box"},
          "mark": {"type": "rect", "fillOpacity": 0, "stroke": "#000000", "strokeWidth": 5, "strokeDash": [42, 22]},
          "encoding": {
            "x": {"field": "t0", "type": "quantitative", "axis": null},
            "x2": {"field": "t1"},
            "y": {"field": "v0", "type": "quantitative", "axis": null},
            "y2": {"field": "v1"}
          }
        },
        {
          "data": {"name": "snBottom"},
          "mark": {"type": "text", "fontSize": 48, "fontStyle": "italic", "color": "#000000", "align": "center", "baseline": "middle"},
          "encoding": {
            "x": {"field": "t", "type": "quantitative", "axis": {"orient": "top", "values": [0, 1, 2, 3, 4, 5, 6], "labels": false, "title": null}},
            "y": {"field": "v", "type": "quantitative", "axis": {"orient": "right", "values": [-0.3, -0.2, -0.1, 0, 0.1], "labels": false, "title": null}},
            "text": {"field": "label"}
          }
        }
      ],
      "resolve": {"axis": {"x": "independent", "y": "independent"}}
    }
  ],
  "spacing": 304,
  "bounds": "flush",
  "resolve": {"scale": {"color": "independent"}, "legend": {"color": "independent"}},
  "config": {
    "font": "Liberation Sans",
    "view": {"stroke": "#262626", "strokeWidth": 5},
    "axis": {
      "domainColor": "#262626", "domainWidth": 5,
      "tickColor": "#262626", "tickWidth": 4, "tickSize": -34,
      "labelFont": "Liberation Sans", "labelFontSize": 44, "labelColor": "#404040",
      "titleFont": "Liberation Sans", "titleFontSize": 46, "titleFontWeight": "normal", "titleColor": "#404040",
      "grid": false, "gridColor": "#555555", "gridDash": [3, 6], "gridWidth": 1.5, "gridOpacity": 1,
      "labelOverlap": false, "labelFlush": false, "labelBound": false
    },
    "axisBottom": {"labelPadding": 69, "titlePadding": 24},
    "axisLeft": {"labelPadding": 47, "titlePadding": 8},
    "title": {"font": "Liberation Sans", "fontSize": 51, "fontWeight": "bold", "color": "#000000", "anchor": "middle", "baseline": "alphabetic", "offset": 6},
    "legend": {
      "title": null, "symbolType": "M-2.6,0H2.6", "symbolSize": 2809, "symbolStrokeWidth": 4, "symbolOffset": 52,
      "labelFont": "Liberation Sans", "labelFontSize": 40, "labelFontStyle": "italic", "labelColor": "#000000",
      "labelOffset": 77, "labelLimit": 1000, "padding": 12, "strokeColor": "#262626", "fillColor": "#ffffff"
    }
  }
}
